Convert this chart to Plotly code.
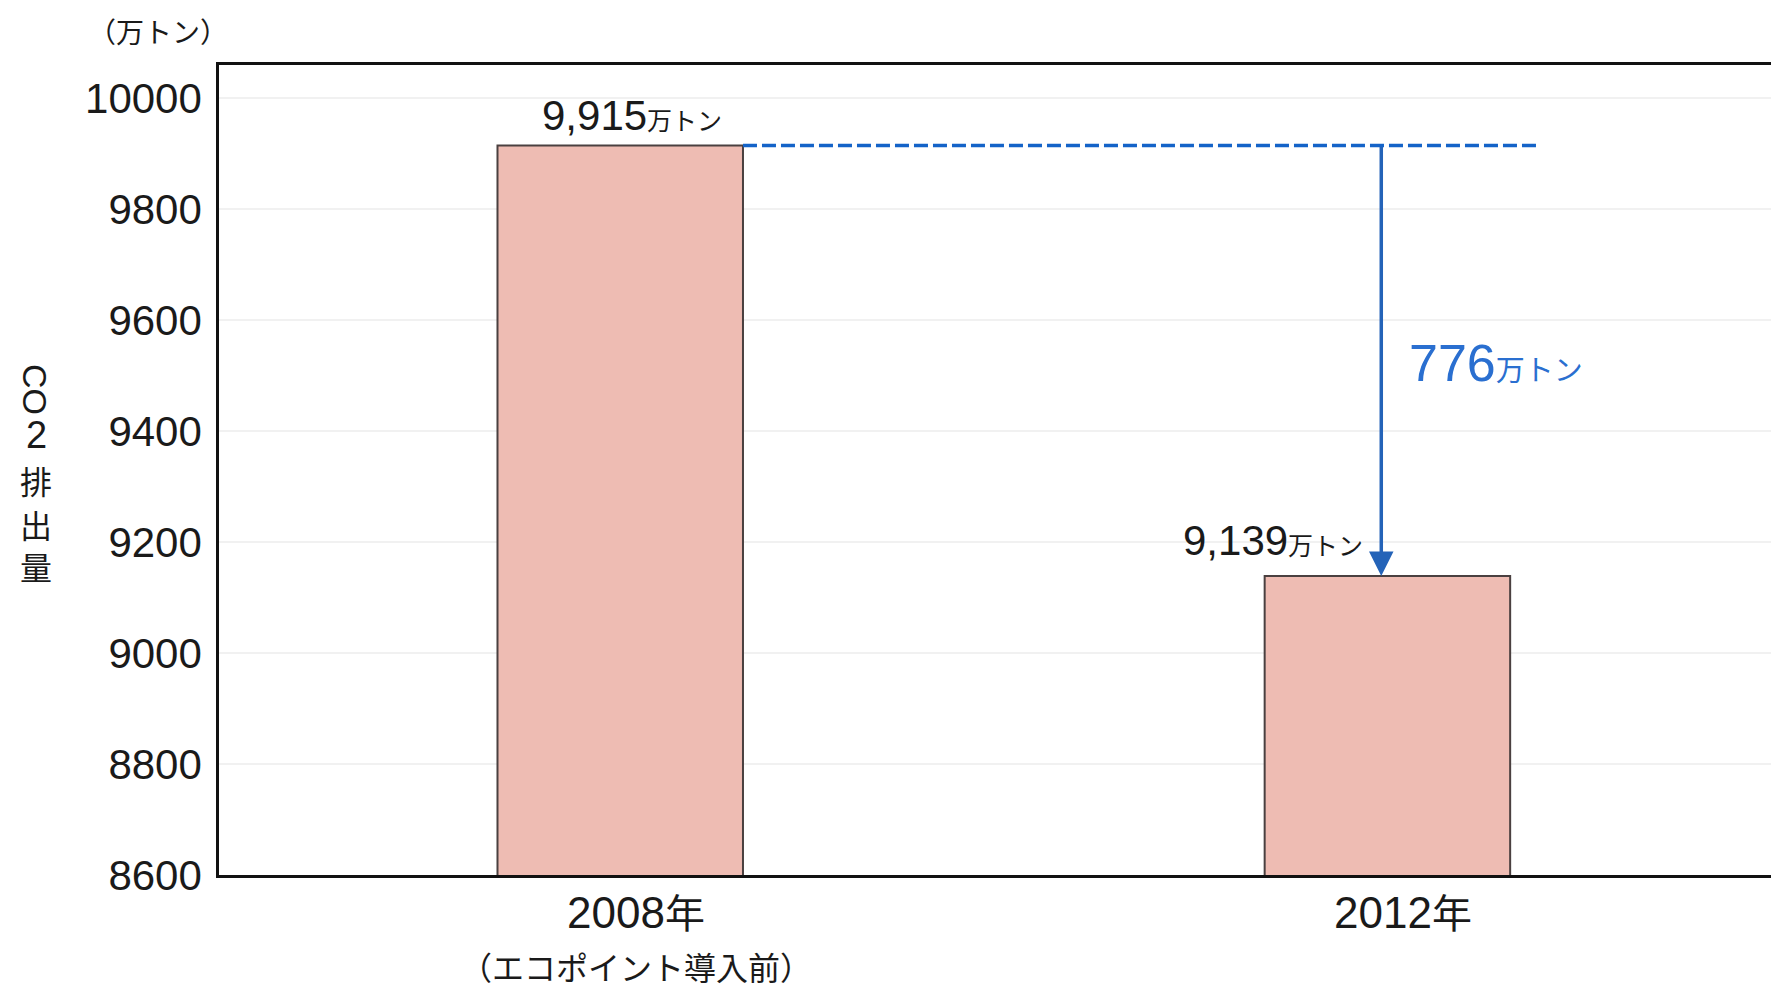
import plotly.graph_objects as go

# --- data -------------------------------------------------------------
years = ["2008年", "2012年"]
year_notes = ["（エコポイント導入前）", ""]
emissions = [9915, 9139]          # 万トン
y_ticks = [8600, 8800, 9000, 9200, 9400, 9600, 9800, 10000]
unit = "万トン"
reduction = emissions[0] - emissions[1]

# --- styling ----------------------------------------------------------
NUM_FONT = "Liberation Sans, Arial, sans-serif"
JP_FONT = "Noto Sans CJK JP, sans-serif"
MIX_FONT = "Liberation Sans, Arial, Noto Sans CJK JP, sans-serif"
INK = "#1a1a1a"
BAR_FILL = "#eebcb3"
BAR_EDGE = "#4a4040"
BLUE_LINE = "#1463c8"
BLUE_ARROW = "#2463b8"
BLUE_TEXT = "#2a6fd0"

BAR_W = 0.32
ARROW_X = 0.992   # arrow sits just left of the 2012 bar centre

fig = go.Figure()
fig.add_trace(go.Bar(
    x=years, y=emissions, width=BAR_W,
    marker=dict(color=BAR_FILL, line=dict(color=BAR_EDGE, width=2)),
    base=0, hoverinfo="skip", showlegend=False,
))

annotations = []

# value labels above bars
annotations.append(dict(
    x=years[0], y=emissions[0], xref="x", yref="y",
    text=f"{emissions[0]:,}<span style='font-size:25px'>{unit}</span>",
    showarrow=False, xanchor="center", yanchor="bottom", xshift=12, yshift=4,
    font=dict(family=MIX_FONT, size=42, color=INK),
))
annotations.append(dict(
    x=years[1], y=emissions[1], xref="x", yref="y",
    text=f"{emissions[1]:,}<span style='font-size:25px'>{unit}</span>",
    showarrow=False, xanchor="right", yanchor="bottom", xshift=-22, yshift=10,
    font=dict(family=MIX_FONT, size=42, color=INK),
))

# reduction arrow from the 2008 level down to the 2012 bar
annotations.append(dict(
    x=ARROW_X, y=emissions[1], xref="x", yref="y",
    ax=ARROW_X, ay=emissions[0], axref="x", ayref="y",
    text="", showarrow=True, arrowhead=2, arrowsize=1.4, arrowwidth=3.5,
    arrowcolor=BLUE_ARROW, standoff=0, startstandoff=0,
))
annotations.append(dict(
    x=years[1], y=(emissions[0] + emissions[1]) / 2, xref="x", yref="y",
    text=f"{reduction}<span style='font-size:29px'>{unit}</span>",
    showarrow=False, xanchor="left", yanchor="middle", xshift=20, yshift=-2,
    font=dict(family=MIX_FONT, size=52, color=BLUE_TEXT),
))

# category labels under the axis
for yr, note in zip(years, year_notes):
    annotations.append(dict(
        x=yr, y=0, xref="x", yref="paper",
        text=yr.replace("年", "<span style='font-size:40px'>年</span>"),
        showarrow=False, xanchor="center", yanchor="top", xshift=16, yshift=-11,
        font=dict(family=MIX_FONT, size=44, color=INK),
    ))
    if note:
        annotations.append(dict(
            x=yr, y=0, xref="x", yref="paper",
            text=note, showarrow=False, xanchor="center", yanchor="top",
            xshift=16, yshift=-66,
            font=dict(family=JP_FONT, size=32, color=INK),
        ))

# unit label above the value axis
annotations.append(dict(
    x=0, y=1, xref="paper", yref="paper", text="（万トン）",
    showarrow=False, xanchor="center", yanchor="middle", xshift=-61, yshift=34,
    font=dict(family=JP_FONT, size=28, color=INK),
))

# vertical axis title: "CO" turned sideways, the rest stacked upright
PLOT_TOP, PLOT_BOTTOM = 65, 875
def paper_y(py):
    return (PLOT_BOTTOM - py) / (PLOT_BOTTOM - PLOT_TOP)

annotations.append(dict(
    x=0, y=paper_y(389), xref="paper", yref="paper", text="CO", textangle=90,
    showarrow=False, xanchor="center", yanchor="middle", xshift=-184,
    font=dict(family=NUM_FONT, size=34, color=INK),
))
for ch, py in zip(["2", "排", "出", "量"], [435, 480, 524, 566]):
    annotations.append(dict(
        x=0, y=paper_y(py), xref="paper", yref="paper", text=ch,
        showarrow=False, xanchor="center", yanchor="middle", xshift=-183,
        font=dict(family=NUM_FONT if ch == "2" else JP_FONT,
                  size=38 if ch == "2" else 32, color=INK),
    ))

# dashed reference line at the 2008 level
fig.add_shape(
    type="line", xref="x", yref="y",
    x0=BAR_W / 2, x1=1.20, y0=emissions[0], y1=emissions[0],
    line=dict(color=BLUE_LINE, width=3.5, dash="14px,5px"),
)

fig.update_layout(
    width=1771, height=992,
    margin=dict(l=219, r=0, t=PLOT_TOP, b=992 - PLOT_BOTTOM),
    paper_bgcolor="white", plot_bgcolor="white",
    annotations=annotations,
    showlegend=False,
    xaxis=dict(
        type="category", range=[-0.523, 1.50],
        showticklabels=False, ticks="", showgrid=False, zeroline=False,
        showline=True, linecolor="#111111", linewidth=2.5, mirror=True,
    ),
    yaxis=dict(
        range=[8600, 10060], tickvals=y_ticks,
        ticktext=[str(v) for v in y_ticks],
        tickfont=dict(family=NUM_FONT, size=42, color=INK),
        ticks="", ticklabelstandoff=6,
        showgrid=True, gridcolor="#f1f1f1", gridwidth=2,
        zeroline=False, showline=True, linecolor="#111111", linewidth=2.5,
    ),
)

fig.write_html("out.html")
